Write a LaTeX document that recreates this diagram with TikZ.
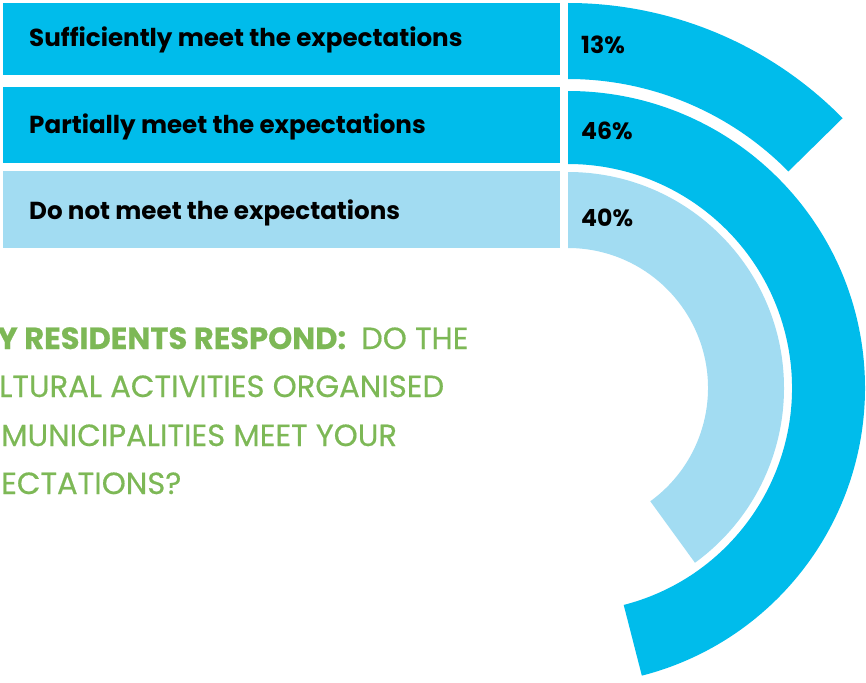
\documentclass[tikz,border=0pt]{standalone}
\usepackage{fontspec}
\setmainfont{Poppins}
\definecolor{svy_cyan}{HTML}{00BCEB}
\definecolor{svy_light}{HTML}{A2DCF2}
\definecolor{svy_green}{HTML}{7DB856}
\usetikzlibrary{calc}
\newcommand{\medw}{\addfontfeature{FakeBold=0.5}}

\begin{document}
\begin{tikzpicture}[
        x=1pt, y=-1pt,
        bar/.style={fill=#1, draw=none, anchor=north west,
                    minimum width=557pt, inner sep=0pt},
        lbl/.style={anchor=base west, inner sep=0pt,
                    font=\fontsize{24.6}{28}\selectfont\bfseries},
        pct/.style={anchor=base west, inner sep=0pt,
                    font=\fontsize{23.6}{28}\selectfont\bfseries},
        ques/.style={anchor=base west, inner sep=0pt, text=svy_green,
                     font=\fontsize{30.6}{34}\selectfont\medw},
      ]
        \useasboundingbox (0,0) rectangle (866,682);
        % bars on the left
        \node[bar=svy_cyan, minimum height=72pt]  (suffbar) at (3,3)   {};
        \node[bar=svy_cyan, minimum height=76pt]  (partbar) at (3,87)  {};
        \node[bar=svy_light, minimum height=77pt] (notbar)  at (3,171) {};
        \node[lbl] (sufftxt) at (29,47)  {Sufficiently meet the expectations};
        \node[lbl] (parttxt) at (29,133) {Partially meet the expectations};
        \node[lbl] (nottxt)  at (29,219) {Do not meet the expectations};
        % rings
        \coordinate (ctr) at (568,388);
        \fill[svy_cyan] ($(ctr)+(-90:385)$)
          arc[start angle=-90, end angle=-44.5, radius=385]
          -- ($(ctr)+(-44.5:309)$)
          arc[start angle=-44.5, end angle=-90, radius=309] -- cycle;
        \fill[svy_cyan] ($(ctr)+(-90:297)$)
          arc[start angle=-90, end angle=75.6, radius=297]
          -- ($(ctr)+(75.6:224)$)
          arc[start angle=75.6, end angle=-90, radius=224] -- cycle;
        \fill[svy_light] ($(ctr)+(-90:216)$)
          arc[start angle=-90, end angle=54, radius=216]
          -- ($(ctr)+(54:140)$)
          arc[start angle=54, end angle=-90, radius=140] -- cycle;
        \node[pct] (suffpct) at (581,54)  {13\%};
        \node[pct] (partpct) at (581,139) {46\%};
        \node[pct] (notpct)  at (581,226) {40\%};
        % question
        \node[ques] (q1) at (-3,349)
          {\textbf{Y RESIDENTS RESPOND:}\hspace{15pt}DO THE};
        \node[ques] (q2) at (-1,397) {LTURAL ACTIVITIES ORGANISED};
        \node[ques] (q3) at (1,446)  {MUNICIPALITIES MEET YOUR};
        \node[ques] (q4) at (1,494)  {ECTATIONS?};
      \end{tikzpicture}
\end{document}
